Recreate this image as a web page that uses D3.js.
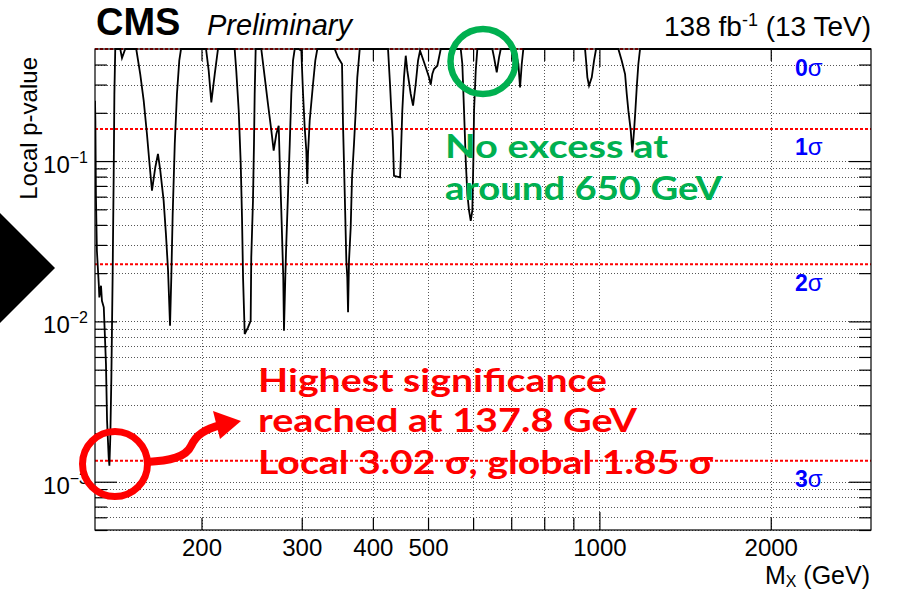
<!DOCTYPE html>
<html><head><meta charset="utf-8">
<script src="https://cdn.jsdelivr.net/npm/d3@7"></script>
<style>body{margin:0;background:#fff}svg{display:block}</style>
</head><body>
<svg id="c" width="904" height="591"></svg>
<script>
// ---------------- data ----------------
const massGeV = [
 130.0,130.2,130.5,131.0,132.0,132.3,133.2,133.7,134.7,135.2,135.9,136.5,137.4,137.8,138.3,138.9,139.6,140.2,140.6,141.1,
 144.0,145.0,146.9,153.6,156.1,158.3,160.4,161.9,163.7,165.9,167.7,169.3,171.6,173.2,174.7,176.1,177.0,178.0,179.5,181.1,182.8,184.1,
 203.7,205.9,208.1,211.0,213.8,228.7,230.2,232.5,234.4,235.6,236.6,238.2,241.4,244.0,244.6,246.3,247.3,248.0,249.0,
 254.7,258.3,261.7,265.3,267.8,270.7,273.3,274.4,276.2,277.3,278.4,279.2,280.7,281.8,283.8,285.8,287.6,289.6,291.6,
 296.4,299.5,301.6,303.6,305.6,306.8,307.7,309.8,314.0,316.9,319.5,
 342.8,347.4,353.1,354.5,357.0,359.3,360.7,361.8,363.2,365.7,367.7,370.6,373.2,375.6,379.3,
 425.3,428.7,431.0,433.5,435.7,441.6,446.5,447.7,450.6,453.7,456.9,459.8,466.2,470.6,475.7,480.2,484.1,488.6,495.4,502.0,505.5,508.8,512.3,519.2,522.8,526.4,
 570.7,574.4,578.4,582.4,586.2,590.2,594.3,598.1,600.6,602.3,606.4,610.4,
 648.5,653.0,660.2,666.4,671.0,
 710.9,720.5,725.5,730.5,735.2,
 943.6,947.5,952.5,959.0,969.6,978.6,986.6,
 1079.7,1094.6,1109.4,1117.0,1124.3,1135.2,1142.6,1150.5,1156.6,1163.1,1170.7,1178.8,3000
];
const pLocal = [
 0.238,0.1785,0.0594,0.0276,0.0171,0.0141,0.0167,0.01345,0.01224,0.00874,0.00542,0.0024,0.00142,0.00126,0.00189,0.00448,0.0188,0.0792,0.262,0.5,
 0.5,0.439,0.5,0.5,0.349,0.238,0.1475,0.1005,0.0653,0.0914,0.1107,0.0871,0.0566,0.0351,0.0207,0.00939,0.0188,0.0467,0.1277,0.262,0.4227,0.5,
 0.5,0.3661,0.2325,0.349,0.5,0.5,0.3661,0.2061,0.0959,0.0446,0.0188,0.00834,0.00918,0.01009,0.0251,0.0566,0.1277,0.262,0.5,
 0.5,0.333,0.227,0.1547,0.116,0.1475,0.1661,0.1005,0.049,0.0304,0.0188,0.00874,0.0188,0.0304,0.0623,0.1277,0.262,0.4227,0.5,
 0.5,0.488,0.262,0.1624,0.116,0.0719,0.1107,0.1785,0.3024,0.4227,0.5,
 0.5,0.4438,0.4031,0.1703,0.0623,0.0239,0.0188,0.01139,0.0239,0.0386,0.0792,0.1277,0.2061,0.333,0.5,
 0.5,0.3024,0.2061,0.1407,0.081,0.0799,0.0792,0.1005,0.2061,0.333,0.4541,0.3661,0.262,0.2215,0.3024,0.4227,0.488,0.4438,0.3844,0.333,0.2994,0.3492,0.3752,0.3934,0.4438,0.5,
 0.5,0.4031,0.2061,0.1005,0.0623,0.049,0.04244,0.049,0.1005,0.2061,0.3661,0.5,
 0.5,0.4438,0.3578,0.4438,0.5,
 0.5,0.4031,0.2884,0.4031,0.5,
 0.5,0.4227,0.333,0.2951,0.333,0.4227,0.5,
 0.5,0.4227,0.349,0.262,0.2061,0.1547,0.1134,0.1547,0.2061,0.2884,0.4031,0.5,0.5
];
const xDomain = [130, 3000];
const yDomain = [5e-4, 0.5];
const xTickValues = [200,300,400,500,600,700,800,900,1000,2000];
const xTickLabels = ["200","300","400","500","","","","","1000","2000"];
const yMajorTicks = [1e-3, 1e-2, 1e-1];
const yMajorExponents = ["\u22123","\u22122","\u22121"];
const sigmaNames = ["0","1","2","3"];
const sigmaPValues = [0.5, 0.15866, 0.02275, 0.00135];
const greenLines = ["No excess at", "around 650 GeV"];
const redLines = ["Highest significance", "reached at 137.8 GeV", "Local 3.02 \u03c3, global 1.85 \u03c3"];

// ---------------- layout ----------------
const L = 95, R = 871, T = 49, B = 530;
const svg = d3.select("#c");
const x = d3.scaleLog().domain(xDomain).range([L, R]);
const y = d3.scaleLog().domain(yDomain).range([B, T]);
const HEL = "'Liberation Sans', Arial, Helvetica, sans-serif";
const ANN = "Lato, 'Open Sans', sans-serif";

const yAll = [];
for (let e = -4; e <= -1; e++) for (let m = 1; m <= 9; m++) {
  const v = +(m * Math.pow(10, e)).toPrecision(6);
  if (v >= yDomain[0] * 0.999 && v < yDomain[1] * 0.999) yAll.push(v);
}
const isMajor = d => Math.abs(Math.log10(d) - Math.round(Math.log10(d))) < 1e-6;

svg.append("defs").append("clipPath").attr("id", "clip")
  .append("rect").attr("x", L).attr("y", T - 2).attr("width", R - L).attr("height", B - T + 2);

// grid
const grid = svg.append("g").attr("stroke", "#555").attr("stroke-width", 1).attr("stroke-dasharray", "1,2");
grid.selectAll("line.gx").data(xTickValues).join("line").attr("class", "gx")
  .attr("x1", d => Math.round(x(d)) + 0.5).attr("x2", d => Math.round(x(d)) + 0.5).attr("y1", T).attr("y2", B);
grid.selectAll("line.gy").data(yAll).join("line").attr("class", "gy")
  .attr("y1", d => Math.round(y(d)) + 0.5).attr("y2", d => Math.round(y(d)) + 0.5).attr("x1", L).attr("x2", R);

// sigma lines
svg.append("g").selectAll("line").data(sigmaPValues).join("line")
  .attr("x1", L).attr("x2", R).attr("y1", d => y(d)).attr("y2", d => y(d))
  .attr("stroke", "#ff0000").attr("stroke-width", 2).attr("stroke-dasharray", "3,2");

// curve
const pts = massGeV.map((m, i) => ({ m, p: pLocal[i] }));
svg.append("path").datum(pts).attr("clip-path", "url(#clip)")
  .attr("d", d3.line().x(d => x(d.m)).y(d => y(d.p)))
  .attr("fill", "none").attr("stroke", "#000").attr("stroke-width", 1.8);

// frame
svg.append("rect").attr("x", L).attr("y", T).attr("width", R - L).attr("height", B - T)
  .attr("fill", "none").attr("stroke", "#000").attr("stroke-width", 1.2);

// axes
const gB = svg.append("g").attr("transform", `translate(0,${B})`)
  .call(d3.axisBottom(x).tickValues(xTickValues).tickSize(-12).tickPadding(9).tickFormat((d, i) => xTickLabels[i]));
gB.select(".domain").remove();
gB.selectAll(".tick line").attr("y2", d => d === 1000 ? -18 : -12).attr("stroke", "#000").attr("stroke-width", 1.2);
gB.selectAll(".tick text").attr("font-family", HEL).attr("font-size", 24).attr("fill", "#000");

const gT = svg.append("g").attr("transform", `translate(0,${T})`)
  .call(d3.axisTop(x).tickValues(xTickValues).tickSize(-12).tickFormat(""));
gT.select(".domain").remove();
gT.selectAll(".tick line").attr("y2", d => d === 1000 ? 18 : 12).attr("stroke", "#000").attr("stroke-width", 1.2);

const gL = svg.append("g").attr("transform", `translate(${L},0)`)
  .call(d3.axisLeft(y).tickValues(yAll).tickSize(-12).tickFormat(""));
gL.select(".domain").remove();
gL.selectAll(".tick line").attr("x2", d => isMajor(d) ? 22 : 12).attr("stroke", "#000").attr("stroke-width", 1.2);

const gR = svg.append("g").attr("transform", `translate(${R},0)`)
  .call(d3.axisRight(y).tickValues(yAll).tickSize(-12).tickFormat(""));
gR.select(".domain").remove();
gR.selectAll(".tick line").attr("x2", d => isMajor(d) ? -22 : -12).attr("stroke", "#000").attr("stroke-width", 1.2);

// y tick labels 10^-n
const yl = svg.append("g").selectAll("text").data(yMajorTicks).join("text")
  .attr("x", 88).attr("y", d => y(d) + 12).attr("text-anchor", "end")
  .attr("font-family", HEL).attr("font-size", 24).attr("fill", "#000");
yl.append("tspan").text("10");
yl.append("tspan").attr("font-size", 16).attr("dy", -10).text((d, i) => yMajorExponents[i]);

// axis titles
svg.append("text").attr("transform", `translate(37,57) rotate(-90)`).attr("text-anchor", "end")
  .attr("font-family", HEL).attr("font-size", 24).attr("fill", "#000").text("Local p-value");
const xt = svg.append("text").attr("x", 870).attr("y", 584).attr("text-anchor", "end")
  .attr("font-family", HEL).attr("font-size", 25).attr("fill", "#000");
xt.append("tspan").text("M");
xt.append("tspan").attr("font-size", 16).attr("dy", 3).text("X");
xt.append("tspan").attr("dy", -3).text(" (GeV)");

// header
svg.append("text").attr("x", 96).attr("y", 35).attr("font-family", HEL).attr("font-weight", "bold")
  .attr("font-size", 38).attr("fill", "#000").text("CMS");
svg.append("text").attr("x", 207).attr("y", 35).attr("font-family", HEL).attr("font-style", "italic")
  .attr("font-size", 29).attr("fill", "#000").text("Preliminary");
const lumi = svg.append("text").attr("x", 871).attr("y", 36).attr("text-anchor", "end")
  .attr("font-family", HEL).attr("font-size", 28).attr("fill", "#000");
lumi.append("tspan").text("138 fb");
lumi.append("tspan").attr("font-size", 18).attr("dy", -10).text("-1");
lumi.append("tspan").attr("dy", 10).text(" (13 TeV)");

// sigma labels
const sigY = [76, 155, 291, 487];
const sl = svg.append("g").selectAll("text").data(sigmaNames).join("text")
  .attr("x", 795).attr("y", (d, i) => sigY[i]).attr("font-family", HEL).attr("font-size", 23).attr("fill", "#0000ff");
sl.append("tspan").attr("font-weight", "bold").text(d => d);
sl.append("tspan").attr("font-size", 24).text("\u03c3");

// black arrow at the left edge
svg.append("polygon").attr("points", "0,213 55,268 0,323").attr("fill", "#000");

// green annotation
svg.append("circle").attr("cx", 483).attr("cy", 61.5).attr("r", 32.5)
  .attr("fill", "none").attr("stroke", "#00b050").attr("stroke-width", 6.5);
const gW = [223, 277], gY = [158, 200];
svg.append("g").selectAll("text").data(greenLines).join("text")
  .attr("x", 445).attr("y", (d, i) => gY[i]).attr("font-family", ANN).attr("font-weight", 700)
  .attr("font-size", 33).attr("fill", "#00b050")
  .attr("textLength", (d, i) => gW[i]).attr("lengthAdjust", "spacingAndGlyphs").text(d => d);

// red annotation
svg.append("circle").attr("cx", 115).attr("cy", 464).attr("r", 32.5)
  .attr("fill", "none").attr("stroke", "#ff0000").attr("stroke-width", 7);
svg.append("path").attr("d", "M147,462 C170,461 186,457 191,446 C196,435 205,429 221,425")
  .attr("fill", "none").attr("stroke", "#ff0000").attr("stroke-width", 8);
svg.append("polygon").attr("points", "241,421 213,411 220,439").attr("fill", "#ff0000");
const rW = [349, 379, 455], rY = [392, 432, 474];
svg.append("g").selectAll("text").data(redLines).join("text")
  .attr("x", 258).attr("y", (d, i) => rY[i]).attr("font-family", ANN).attr("font-weight", 700)
  .attr("font-size", 33).attr("fill", "#ff0000")
  .attr("textLength", (d, i) => rW[i]).attr("lengthAdjust", "spacingAndGlyphs").text(d => d);
</script>
</body></html>
